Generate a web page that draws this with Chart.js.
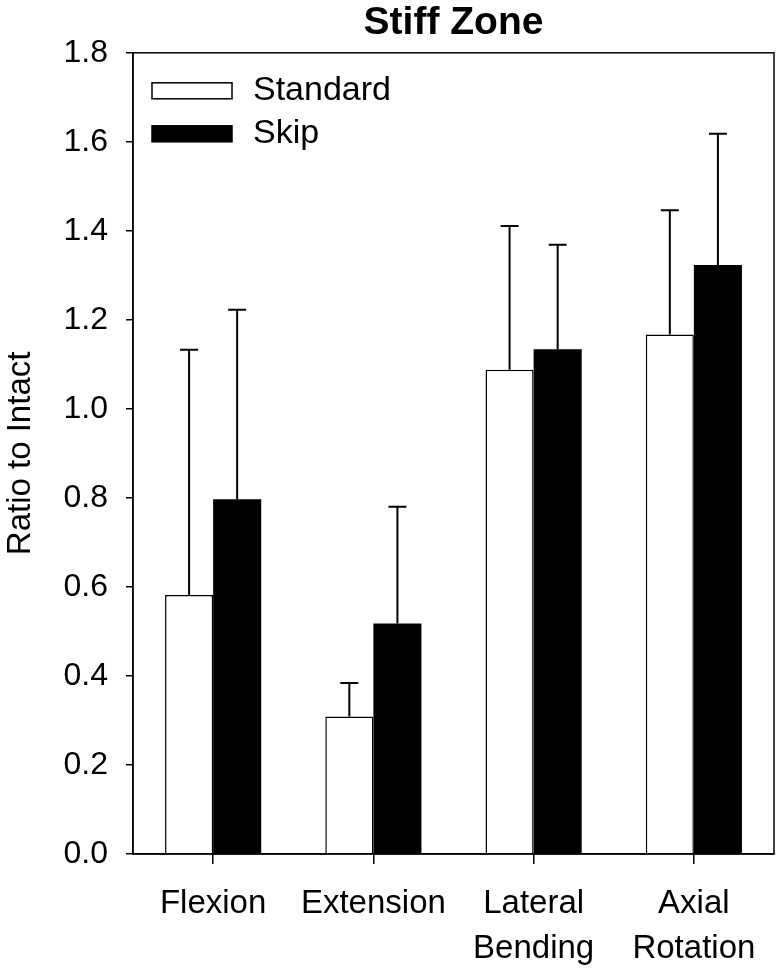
<!DOCTYPE html>
<html>
<head>
<meta charset="utf-8">
<script src="https://cdn.jsdelivr.net/npm/chart.js@4"></script>
<style>
  body { margin: 0; background: #fff; }
  canvas { display: block; }
</style>
</head>
<body>
<canvas id="chart" width="782" height="977"></canvas>
<script>
const categories = ['Flexion', 'Extension', ['Lateral', 'Bending'], ['Axial', 'Rotation']];
const standardMean = [0.582, 0.309, 1.088, 1.167];
const standardSD = [0.551, 0.075, 0.323, 0.279];
const skipMean = [0.797, 0.518, 1.134, 1.323];
const skipSD = [0.426, 0.262, 0.235, 0.295];
const yTicks = [0, 0.2, 0.4, 0.6, 0.8, 1.0, 1.2, 1.4, 1.6, 1.8];

const FONT = 'Liberation Sans, Arial, Helvetica, sans-serif';

// upper error bars only, like the original figure
const errorBars = {
  id: 'errorBars',
  afterDatasetsDraw(chart) {
    const ctx = chart.ctx;
    const y = chart.scales.y;
    ctx.save();
    ctx.strokeStyle = '#000';
    ctx.lineWidth = 2;
    chart.data.datasets.forEach((ds, i) => {
      const meta = chart.getDatasetMeta(i);
      meta.data.forEach((bar, j) => {
        const top = y.getPixelForValue(ds.data[j] + ds.sd[j]);
        ctx.beginPath();
        ctx.moveTo(bar.x, bar.y);
        ctx.lineTo(bar.x, top);
        ctx.moveTo(bar.x - 9, top);
        ctx.lineTo(bar.x + 9, top);
        ctx.stroke();
      });
    });
    ctx.restore();
  }
};

// box round the plot and the legend inside it
const frameAndLegend = {
  id: 'frameAndLegend',
  afterDraw(chart) {
    const ctx = chart.ctx;
    const a = chart.chartArea;
    ctx.save();
    ctx.strokeStyle = '#000';
    ctx.lineWidth = 1.5;
    ctx.strokeRect(a.left, a.top, a.right - a.left, a.bottom - a.top);

    ctx.font = '34px ' + FONT;
    ctx.textBaseline = 'middle';
    chart.data.datasets.forEach((ds, i) => {
      const bx = a.left + 19, by = a.top + 30 + i * 43;
      ctx.fillStyle = ds.backgroundColor;
      ctx.fillRect(bx, by, 80, 16);
      ctx.lineWidth = 1.5;
      ctx.strokeRect(bx, by, 80, 16);
      ctx.fillStyle = '#000';
      ctx.fillText(ds.label, bx + 101, by + 8);
    });
    ctx.restore();
  }
};

new Chart(document.getElementById('chart'), {
  type: 'bar',
  data: {
    labels: categories,
    datasets: [
      { label: 'Standard', data: standardMean, sd: standardSD,
        backgroundColor: '#ffffff', borderColor: '#000', borderWidth: 1.5 },
      { label: 'Skip', data: skipMean, sd: skipSD,
        backgroundColor: '#000000', borderColor: '#000', borderWidth: 0 }
    ]
  },
  options: {
    responsive: false,
    animation: false,
    devicePixelRatio: 1,
    layout: { padding: { left: 0, right: 8, top: 0, bottom: 0 } },
    datasets: { bar: { categoryPercentage: 0.6, barPercentage: 1.0 } },
    plugins: {
      legend: { display: false },
      tooltip: { enabled: false },
      title: {
        display: true,
        fullSize: false,
        text: 'Stiff Zone',
        color: '#000',
        font: { family: FONT, size: 39, weight: 'bold', lineHeight: 1.2 },
        padding: { top: 0, bottom: 6 }
      }
    },
    scales: {
      x: {
        grid: { offset: false, drawOnChartArea: false, drawTicks: true, tickLength: 10, color: '#000', lineWidth: 1.5 },
        border: { color: '#000', width: 1.5 },
        ticks: { color: '#000', padding: 17, maxRotation: 0, autoSkip: false,
                 font: { family: FONT, size: 33, lineHeight: 1.38 } },
        afterFit: (s) => { s.height = 123; }
      },
      y: {
        min: 0,
        max: 1.8,
        afterBuildTicks: (s) => { s.ticks = yTicks.map(v => ({ value: v })); },
        grid: { drawOnChartArea: false, drawTicks: true, tickLength: 7, color: '#000', lineWidth: 1.5 },
        border: { color: '#000', width: 1.5 },
        ticks: { color: '#000', padding: 18, font: { family: FONT, size: 32 },
                 callback: (v) => Number(v).toFixed(1) },
        title: { display: true, text: 'Ratio to Intact', color: '#000',
                 font: { family: FONT, size: 33, lineHeight: 1.2 }, padding: { top: 1, bottom: 0 } },
        afterFit: (s) => { s.width = 133; }
      }
    }
  },
  plugins: [errorBars, frameAndLegend]
});
</script>
</body>
</html>
